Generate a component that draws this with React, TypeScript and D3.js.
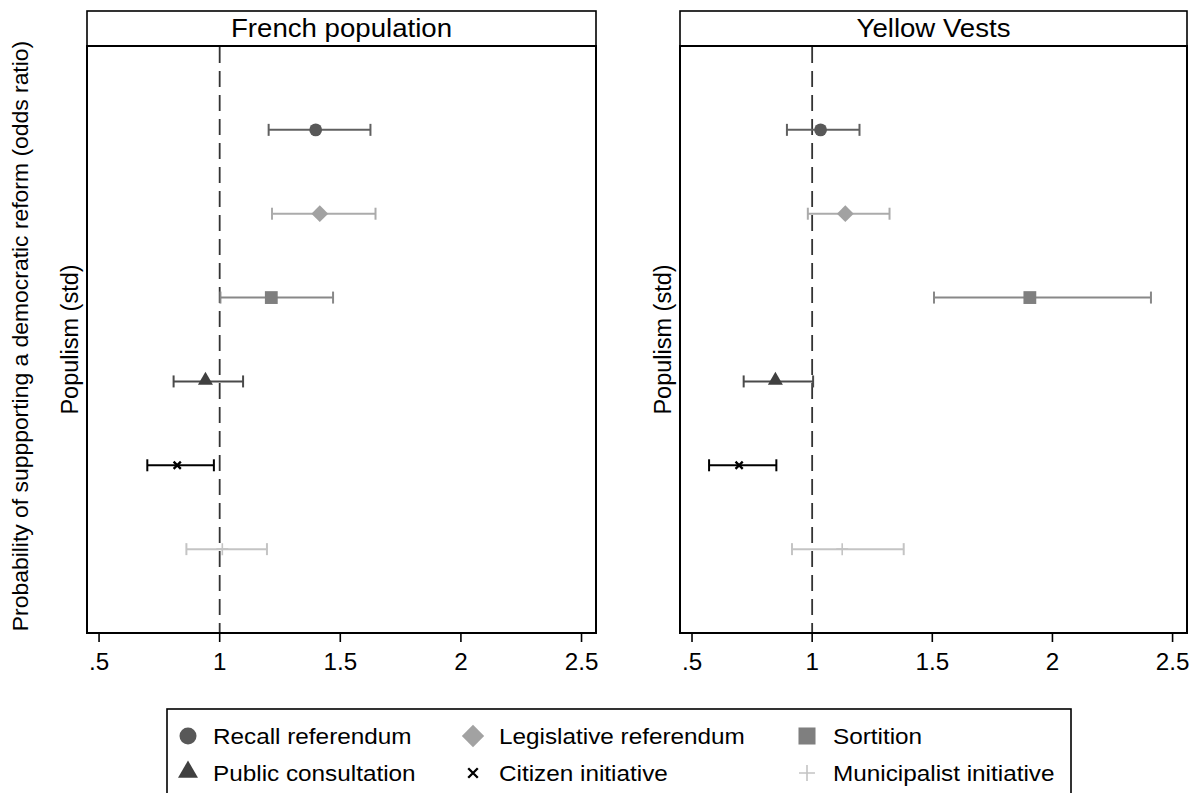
import React from 'react';
import * as d3 from 'd3';

// reform types, top to bottom
const methods = [
  'Recall referendum',
  'Legislative referendum',
  'Sortition',
  'Public consultation',
  'Citizen initiative',
  'Municipalist initiative',
];

// odds ratios
const frenchEst = [1.398, 1.415, 1.214, 0.941, 0.824, 1.011];
const frenchLo = [1.203, 1.217, 1.003, 0.809, 0.7, 0.862];
const frenchHi = [1.625, 1.646, 1.47, 1.097, 0.976, 1.196];

const vestsEst = [1.035, 1.138, 1.906, 0.847, 0.696, 1.125];
const vestsLo = [0.895, 0.982, 1.507, 0.715, 0.571, 0.916];
const vestsHi = [1.197, 1.322, 2.41, 1.004, 0.851, 1.381];

const xTicks = [0.5, 1, 1.5, 2, 2.5];
const xTickLabels = ['.5', '1', '1.5', '2', '2.5'];

const panelTitles = ['French population', 'Yellow Vests'];

type Shape = 'circle' | 'diamond' | 'square' | 'triangle' | 'cross' | 'plus';
const shapes: Shape[] = ['circle', 'diamond', 'square', 'triangle', 'cross', 'plus'];
const markerColors = ['#585858', '#a2a2a2', '#7f7f7f', '#404040', '#000000', '#c4c4c4'];
const ciColors = ['#606060', '#ababab', '#888888', '#4a4a4a', '#000000', '#c4c4c4'];

const FONT = '"Liberation Sans", Arial, sans-serif';
const W = 1195;
const H = 793;
const HEADER_TOP = 11;
const PLOT_TOP = 46;
const PLOT_BOTTOM = 633;

// stata text comes out a touch wider than Arial, so stretch it sideways
function Txt({ x, y, size, sx, anchor, children }: { x: number; y: number; size: number; sx: number; anchor?: string; children: React.ReactNode }) {
  return (
    <text
      transform={`translate(${x},${y}) scale(${sx},1)`}
      textAnchor={anchor || 'start'}
      fontSize={size}
      fontFamily={FONT}
      fill="#000"
    >
      {children}
    </text>
  );
}

function Marker({ shape, x, y, k, color }: { shape: Shape; x: number; y: number; k: number; color: string }) {
  if (shape === 'circle') {
    const p = d3.symbol(d3.symbolCircle, Math.PI * 6.4 * 6.4 * k * k)();
    return <path d={p || ''} transform={`translate(${x},${y})`} fill={color} />;
  }
  if (shape === 'square') {
    const s = 12.8 * k;
    return <rect x={x - s / 2} y={y - s / 2} width={s} height={s} fill={color} />;
  }
  if (shape === 'diamond') {
    const r = 8.4 * k;
    return <path d={`M${x},${y - r}L${x + r},${y}L${x},${y + r}L${x - r},${y}Z`} fill={color} />;
  }
  if (shape === 'triangle') {
    const w = 15 * k;
    const p = d3.symbol(d3.symbolTriangle, (Math.sqrt(3) / 4) * w * w)();
    return <path d={p || ''} transform={`translate(${x},${y - 1})`} fill={color} />;
  }
  if (shape === 'cross') {
    const r = 3.6 * k;
    return (
      <path
        d={`M${x - r},${y - r}L${x + r},${y + r}M${x - r},${y + r}L${x + r},${y - r}`}
        stroke={color}
        strokeWidth={2.3}
      />
    );
  }
  const r = 6 * k;
  return <path d={`M${x - r},${y}L${x + r},${y}M${x},${y - r}L${x},${y + r}`} stroke={color} strokeWidth={1.6} />;
}

function Panel({ idx, left, right, est, lo, hi }: { idx: number; left: number; right: number; est: number[]; lo: number[]; hi: number[] }) {
  const x = d3.scaleLinear().domain([0.45, 2.56]).range([left, right]);
  const y = d3.scaleLinear().domain([0, methods.length + 1]).range([PLOT_TOP, PLOT_BOTTOM]);
  return (
    <g>
      {/* strip header */}
      <rect x={left} y={HEADER_TOP} width={right - left} height={PLOT_TOP - HEADER_TOP} fill="#fff" stroke="#000" strokeWidth={1.6} />
      <Txt x={(left + right) / 2} y={37} size={25} sx={1.105} anchor="middle">
        {panelTitles[idx]}
      </Txt>

      {/* reference line at OR = 1 */}
      <line x1={x(1)} x2={x(1)} y1={PLOT_TOP + 1} y2={PLOT_BOTTOM} stroke="#333" strokeWidth={1.8} strokeDasharray="16,8" />

      {/* coefficient rows */}
      {methods.map((m, i) => {
        const yy = y(i + 1);
        return (
          <g key={m}>
            <line x1={x(lo[i])} x2={x(hi[i])} y1={yy} y2={yy} stroke={ciColors[i]} strokeWidth={2} />
            <line x1={x(lo[i])} x2={x(lo[i])} y1={yy - 6} y2={yy + 6} stroke={ciColors[i]} strokeWidth={2} />
            <line x1={x(hi[i])} x2={x(hi[i])} y1={yy - 6} y2={yy + 6} stroke={ciColors[i]} strokeWidth={2} />
            <Marker shape={shapes[i]} x={x(est[i])} y={yy} k={1} color={markerColors[i]} />
          </g>
        );
      })}

      {/* plot frame */}
      <rect x={left} y={PLOT_TOP} width={right - left} height={PLOT_BOTTOM - PLOT_TOP} fill="none" stroke="#000" strokeWidth={2} />

      {/* x axis */}
      {xTicks.map((t, i) => (
        <g key={t}>
          <line x1={x(t)} x2={x(t)} y1={PLOT_BOTTOM} y2={PLOT_BOTTOM + 9} stroke="#000" strokeWidth={1.6} />
          <Txt x={x(t)} y={670} size={23.5} sx={1.03} anchor="middle">
            {xTickLabels[i]}
          </Txt>
        </g>
      ))}

      {/* y label */}
      <text
        transform={`translate(${left - 9},${(PLOT_TOP + PLOT_BOTTOM) / 2}) rotate(-90)`}
        textAnchor="middle"
        fontSize={23.5}
        fontFamily={FONT}
        fill="#000"
      >
        Populism (std)
      </text>
    </g>
  );
}

const legendMarkX = [188, 473, 807];
const legendTextX = [213, 499, 833];
const legendRows = [736, 773];

export default function App() {
  return (
    <svg width={W} height={H} style={{ position: 'absolute', left: 0, top: 0, background: '#fff' }}>
      <rect width={W} height={H} fill="#fff" />
      <text
        transform={`translate(28,336) rotate(-90)`}
        textAnchor="middle"
        fontSize={22.9}
        fontFamily={FONT}
        fill="#000"
      >
        Probability of suppporting a democratic reform (odds ratio)
      </text>
      <Panel idx={0} left={87} right={596} est={frenchEst} lo={frenchLo} hi={frenchHi} />
      <Panel idx={1} left={680} right={1187} est={vestsEst} lo={vestsLo} hi={vestsHi} />

      {/* legend */}
      <rect x={167} y={709} width={904} height={110} fill="#fff" stroke="#000" strokeWidth={1.6} />
      {methods.map((m, i) => {
        const col = i % 3;
        const cy = legendRows[Math.floor(i / 3)];
        return (
          <g key={m}>
            <Marker shape={shapes[i]} x={legendMarkX[col]} y={cy} k={1.33} color={markerColors[i]} />
            <Txt x={legendTextX[col]} y={cy + 8} size={22} sx={1.105}>
              {m}
            </Txt>
          </g>
        );
      })}
    </svg>
  );
}
